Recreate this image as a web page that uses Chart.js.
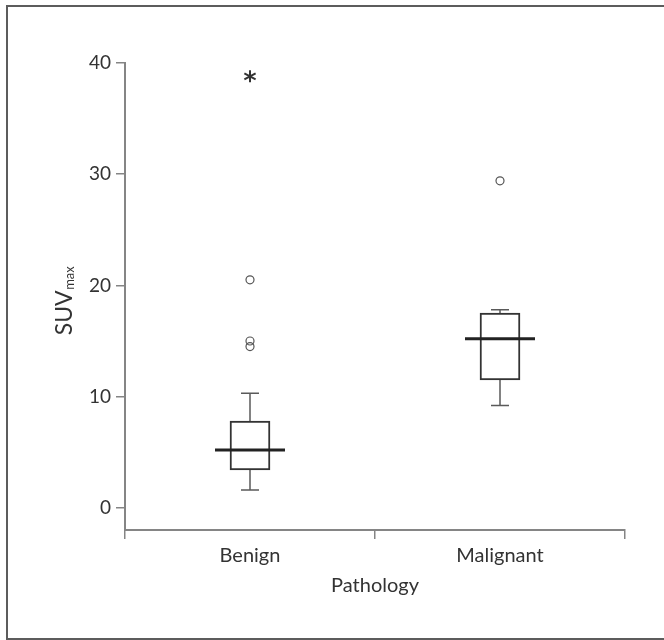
<!DOCTYPE html>
<html>
<head>
<meta charset="utf-8">
<script src="https://cdn.jsdelivr.net/npm/chart.js@4.4.1/dist/chart.umd.min.js"></script>
<style>
html, body { margin: 0; padding: 0; background: #fff; overflow: hidden; }
#wrap { position: relative; width: 664px; height: 640px; }
#frame { position: absolute; left: 6px; top: 5px; width: 800px; height: 635px; box-sizing: border-box; border: 2px solid #5c5c5c; pointer-events: none; }
</style>
</head>
<body>
<div id="wrap"><canvas id="chart" width="664" height="640"></canvas><div id="frame"></div></div>
<script>
// box plot values
let categories = ["Benign", "Malignant"]
let whiskerLow = [1.6, 9.2]
let q1 = [3.4, 11.5]
let median = [5.2, 15.2]
let q3 = [7.8, 17.5]
let whiskerHigh = [10.3, 17.8]
let outlierCat = ["Benign", "Benign", "Benign", "Malignant"]
let outlierVal = [14.5, 15.0, 20.5, 29.4]
let extremeCat = ["Benign"]
let extremeVal = [38.8]
let yTicks = [0, 10, 20, 30, 40]

const axisGray = "#858585"
const textColor = "#333333"

Chart.defaults.font.family = "Lato"
Chart.defaults.color = textColor

// whiskers, medians, extreme markers and the y title with subscript
const boxPlot = {
  id: "boxPlot",
  beforeDatasetsDraw(chart) {
    const ctx = chart.ctx
    const x = chart.scales.x, y = chart.scales.y
    ctx.save()
    ctx.strokeStyle = "#5a5a5a"
    ctx.lineWidth = 1.5
    for (let i = 0; i < categories.length; i++) {
      const cx = x.getPixelForValue(i)
      const pairs = [[q3[i], whiskerHigh[i]], [q1[i], whiskerLow[i]]]
      pairs.forEach(function(p) {
        ctx.beginPath()
        ctx.moveTo(cx, y.getPixelForValue(p[0]))
        ctx.lineTo(cx, y.getPixelForValue(p[1]))
        ctx.moveTo(cx - 9, y.getPixelForValue(p[1]))
        ctx.lineTo(cx + 9, y.getPixelForValue(p[1]))
        ctx.stroke()
      })
    }
    ctx.restore()
  },
  afterDatasetsDraw(chart) {
    const ctx = chart.ctx
    const x = chart.scales.x, y = chart.scales.y
    ctx.save()
    ctx.strokeStyle = "#222222"
    ctx.lineWidth = 3
    for (let i = 0; i < categories.length; i++) {
      const cx = x.getPixelForValue(i)
      const my = y.getPixelForValue(median[i])
      ctx.beginPath()
      ctx.moveTo(cx - 35, my)
      ctx.lineTo(cx + 35, my)
      ctx.stroke()
    }
    // asterisks for extreme values
    const meta = chart.getDatasetMeta(2)
    ctx.strokeStyle = "#333333"
    ctx.lineWidth = 2
    meta.data.forEach(function(pt) {
      for (let a = 0; a < 3; a++) {
        const ang = Math.PI / 2 + a * Math.PI / 3
        ctx.beginPath()
        ctx.moveTo(pt.x - 6.5 * Math.cos(ang), pt.y - 6 * Math.sin(ang))
        ctx.lineTo(pt.x + 6.5 * Math.cos(ang), pt.y + 6 * Math.sin(ang))
        ctx.stroke()
      }
    })
    ctx.restore()
  },
  afterDraw(chart) {
    const ctx = chart.ctx
    ctx.save()
    ctx.translate(72, 301)
    ctx.rotate(-Math.PI / 2)
    ctx.fillStyle = textColor
    ctx.textBaseline = "alphabetic"
    ctx.font = "23px Lato"
    const w1 = ctx.measureText("SUV").width
    ctx.font = "13px Lato"
    const w2 = ctx.measureText("max").width
    const start = -(w1 + w2) / 2
    ctx.font = "23px Lato"
    ctx.fillText("SUV", start, 0)
    ctx.font = "13px Lato"
    ctx.fillText("max", start + w1 + 0.5, 2)
    ctx.restore()
  }
}

new Chart(document.getElementById("chart"), {
  type: "bar",
  data: {
    labels: categories,
    datasets: [{
      data: categories.map(function(c, i) { return [q1[i], q3[i]] }),
      backgroundColor: "#ffffff",
      borderColor: "#333333",
      borderWidth: 2,
      borderSkipped: false,
      barThickness: 40
    }, {
      type: "scatter",
      data: outlierVal.map(function(v, i) { return {x: outlierCat[i], y: v} }),
      pointStyle: "circle",
      pointRadius: 4,
      pointBorderWidth: 1.2,
      borderColor: "#555555",
      backgroundColor: "rgba(0,0,0,0)"
    }, {
      type: "scatter",
      data: extremeVal.map(function(v, i) { return {x: extremeCat[i], y: v} }),
      pointRadius: 0
    }]
  },
  options: {
    responsive: false,
    animation: false,
    layout: { padding: { top: 63, right: 39, left: 0, bottom: 0 } },
    plugins: { legend: { display: false }, tooltip: { enabled: false } },
    scales: {
      x: {
        type: "category",
        offset: true,
        afterFit: function(s) { s.height = 110 },
        grid: { display: true, offset: true, drawOnChartArea: false, tickLength: 9, color: axisGray, lineWidth: 1.5 },
        border: { display: true, color: axisGray, width: 2 },
        ticks: { padding: 5, color: textColor, font: { size: 20 } },
        title: { display: true, text: "Pathology", color: textColor, font: { size: 20 }, padding: { top: 0, bottom: 42 } }
      },
      y: {
        min: -2,
        max: 40,
        afterFit: function(s) { s.width = 125 },
        afterBuildTicks: function(s) { s.ticks = yTicks.map(function(v) { return {value: v} }) },
        grid: { display: true, drawOnChartArea: false, tickLength: 9, color: axisGray, lineWidth: 1.5 },
        border: { display: true, color: axisGray, width: 2 },
        ticks: { padding: 5, color: textColor, font: { size: 19 } }
      }
    }
  },
  plugins: [boxPlot]
})
</script>
</body>
</html>
